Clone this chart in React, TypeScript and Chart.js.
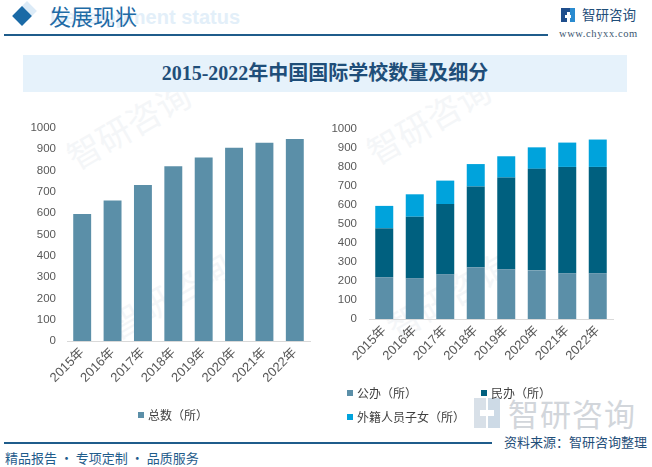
import React, { useEffect, useRef } from "react";
import { Chart, registerables } from "chart.js";

Chart.register(...registerables);

// ---------- data ----------
const years = ["2015年", "2016年", "2017年", "2018年", "2019年", "2020年", "2021年", "2022年"];
const totalSchools = [596, 659, 732, 820, 861, 907, 930, 948];
const publicSchools = [220, 215, 236, 272, 262, 256, 241, 241];
const privateSchools = [257, 323, 369, 425, 482, 534, 559, 559];
const foreignSchools = [118, 118, 123, 118, 112, 113, 128, 144];
const yMin = 0;
const yMax = 1000;
const yStep = 100;
const totalLabel = "总数（所）";
const publicLabel = "公办（所）";
const privateLabel = "民办（所）";
const foreignLabel = "外籍人员子女（所）";
const titleText = "2015-2022年中国国际学校数量及细分";

// ---------- style ----------
const C_PUBLIC = "#5B8FA8";
const C_PRIVATE = "#00607F";
const C_FOREIGN = "#00A3DC";
const TICK_COLOR = "#595959";
const TEXT_COLOR = "#404040";
const FONT_FAMILY = "'Liberation Sans', 'Noto Sans CJK SC', sans-serif";

const placedLegend = {
  id: "placedLegend",
  afterDraw(chart: any, _args: any, opts: any) {
    const { ctx, chartArea } = chart;
    const items = opts.items || [];
    ctx.save();
    ctx.font = "12px 'Noto Sans CJK SC', sans-serif";
    ctx.textBaseline = "middle";
    ctx.textAlign = "left";
    chart.data.datasets.forEach((ds: any, i: number) => {
      const p = items[i];
      if (!p) return;
      const x = chartArea.left + p.dx;
      const y = chartArea.bottom + p.dy;
      ctx.fillStyle = ds.backgroundColor;
      ctx.fillRect(x, y - 3, 6, 6);
      ctx.fillStyle = TEXT_COLOR;
      ctx.fillText(ds.label, x + 10, y + 0.5);
    });
    ctx.restore();
  },
};

function makeScales(stacked: boolean, yWidth: number, yPad: number) {
  return {
    x: {
      stacked,
      grid: { display: false, drawTicks: false },
      border: { display: true, color: "#D9D9D9", width: 1 },
      ticks: {
        color: TICK_COLOR,
        font: { family: FONT_FAMILY, size: 13 },
        minRotation: 45,
        maxRotation: 45,
        autoSkip: false,
        padding: 4,
      },
      afterFit: (s: any) => {
        s.height = 50;
      },
    },
    y: {
      stacked,
      min: yMin,
      max: yMax,
      grid: { display: false, drawTicks: false },
      border: { display: false },
      ticks: {
        stepSize: yStep,
        color: TICK_COLOR,
        font: { family: FONT_FAMILY, size: 11.5 },
        padding: yPad,
        callback: (v: any) => String(v),
      },
      afterFit: (s: any) => {
        s.width = yWidth;
      },
    },
  };
}

function ChartCanvas({ config, left, top, width, height }: any) {
  const ref = useRef<HTMLCanvasElement | null>(null);
  useEffect(() => {
    const chart = new Chart(ref.current as HTMLCanvasElement, config);
    return () => chart.destroy();
  }, []);
  return (
    <canvas
      ref={ref}
      width={width}
      height={height}
      style={{ position: "absolute", left, top, width, height }}
    />
  );
}

const leftConfig: any = {
  type: "bar",
  data: {
    labels: years,
    datasets: [
      {
        label: totalLabel,
        data: totalSchools,
        backgroundColor: C_PUBLIC,
        barPercentage: 0.59,
        categoryPercentage: 1,
      },
    ],
  },
  options: {
    responsive: false,
    animation: false,
    devicePixelRatio: 1,
    layout: { padding: { left: 0, right: 10, top: 13, bottom: 39 } },
    plugins: {
      legend: { display: false },
      tooltip: { enabled: false },
      placedLegend: { items: [{ dx: 71, dy: 74 }] },
    },
    scales: makeScales(false, 67, 11),
  },
  plugins: [placedLegend],
};

const rightConfig: any = {
  type: "bar",
  data: {
    labels: years,
    datasets: [
      { label: publicLabel, data: publicSchools, backgroundColor: C_PUBLIC, barPercentage: 0.59, categoryPercentage: 1 },
      { label: privateLabel, data: privateSchools, backgroundColor: C_PRIVATE, barPercentage: 0.59, categoryPercentage: 1 },
      { label: foreignLabel, data: foreignSchools, backgroundColor: C_FOREIGN, barPercentage: 0.59, categoryPercentage: 1 },
    ],
  },
  options: {
    responsive: false,
    animation: false,
    devicePixelRatio: 1,
    layout: { padding: { left: 0, right: 27, top: 14, bottom: 61 } },
    plugins: {
      legend: { display: false },
      tooltip: { enabled: false },
      placedLegend: {
        items: [
          { dx: -22, dy: 74 },
          { dx: 112, dy: 74 },
          { dx: -22, dy: 98 },
        ],
      },
    },
    scales: makeScales(true, 49, 12),
  },
  plugins: [placedLegend],
};

const abs = (o: any) => ({ position: "absolute" as const, ...o });

export default function App() {
  return (
    <div
      style={{
        position: "absolute",
        left: 0,
        top: 0,
        width: 652,
        height: 467,
        overflow: "hidden",
        background: "#ffffff",
        fontFamily: "'Noto Sans CJK SC', sans-serif",
      }}
    >
      {/* faint background watermarks */}
      <div style={abs({ left: 60, top: 100, fontSize: 34, color: "#F4F6F8", transform: "rotate(-30deg)", whiteSpace: "nowrap" })}>智研咨询</div>
      <div style={abs({ left: 100, top: 270, fontSize: 34, color: "#F4F6F8", transform: "rotate(-30deg)", whiteSpace: "nowrap" })}>智研咨询</div>
      <div style={abs({ left: 360, top: 95, fontSize: 34, color: "#F4F6F8", transform: "rotate(-30deg)", whiteSpace: "nowrap" })}>智研咨询</div>
      <div style={abs({ left: 380, top: 270, fontSize: 34, color: "#F4F6F8", transform: "rotate(-30deg)", whiteSpace: "nowrap" })}>智研咨询</div>

      {/* header */}
      <div style={abs({ left: 50, top: 6, fontSize: 20, fontWeight: 700, color: "#E3EFF9", fontFamily: "'Liberation Sans', sans-serif", whiteSpace: "nowrap" })}>
        Development status
      </div>
      <div style={abs({ left: 20, top: 4, width: 14, height: 14, background: "#DCEBF7", transform: "rotate(45deg)" })} />
      <div style={abs({ left: 15, top: 9, width: 14, height: 14, background: "#1A6AA6", transform: "rotate(45deg)" })} />
      <div style={abs({ left: 49, top: 1, fontSize: 22, lineHeight: "28px", color: "#1E6BA6", whiteSpace: "nowrap" })}>发展现状</div>
      <div style={abs({ left: 4, top: 34, width: 544, height: 2, background: "#1F5C8B" })} />

      {/* logo */}
      <div style={abs({ left: 561, top: 8, width: 6, height: 14, background: "#1F4E8C" })} />
      <div style={abs({ left: 567, top: 8, width: 4, height: 4, background: "#1F4E8C" })} />
      <div style={abs({ left: 570, top: 8, width: 5, height: 14, background: "#2A8BD0" })} />
      <div style={abs({ left: 565, top: 15, width: 6, height: 3, background: "#ffffff" })} />
      <div style={abs({ left: 582, top: 4, fontSize: 13.5, lineHeight: "20px", color: "#1F4E79", whiteSpace: "nowrap" })}>智研咨询</div>
      <div style={abs({ left: 559, top: 27, fontSize: 10.5, lineHeight: "14px", color: "#3B5670", fontFamily: "'Liberation Serif', serif", whiteSpace: "nowrap", letterSpacing: 0.6 })}>
        www.chyxx.com
      </div>

      {/* title band */}
      <div style={abs({ left: 23, top: 55, width: 604, height: 37, background: "#E6F2FB" })} />
      <div
        style={abs({
          left: 23,
          top: 55,
          width: 604,
          height: 37,
          lineHeight: "37px",
          textAlign: "center",
          fontSize: 20,
          fontWeight: 700,
          color: "#1F4E79",
          fontFamily: "'Liberation Serif', 'Noto Sans CJK SC', serif",
          whiteSpace: "nowrap",
        })}
      >
        {titleText}
      </div>

      {/* lower-right logo watermark */}
      <div style={abs({ left: 474, top: 398, width: 12, height: 30, background: "#D8E0E8" })} />
      <div style={abs({ left: 488, top: 398, width: 12, height: 30, background: "#CDDAE6" })} />
      <div style={abs({ left: 480, top: 410, width: 14, height: 6, background: "#ffffff" })} />
      <div style={abs({ left: 508, top: 393, fontSize: 31, lineHeight: "40px", color: "#D2D6DB", whiteSpace: "nowrap", letterSpacing: 1 })}>智研咨询</div>

      {/* charts */}
      <ChartCanvas config={leftConfig} left={0} top={110} width={320} height={320} />
      <ChartCanvas config={rightConfig} left={320} top={110} width={320} height={320} />

      {/* footer */}
      <div style={abs({ left: 4, top: 442, width: 488, height: 1.5, background: "#1F5C8B" })} />
      <div style={abs({ left: 504, top: 432, fontSize: 13, lineHeight: "20px", color: "#1F4E79", whiteSpace: "nowrap" })}>资料来源：智研咨询整理</div>
      <div style={abs({ left: 5, top: 448, fontSize: 13, lineHeight: "20px", color: "#1F5C8B", whiteSpace: "nowrap" })}>精品报告 · 专项定制 · 品质服务</div>
    </div>
  );
}
